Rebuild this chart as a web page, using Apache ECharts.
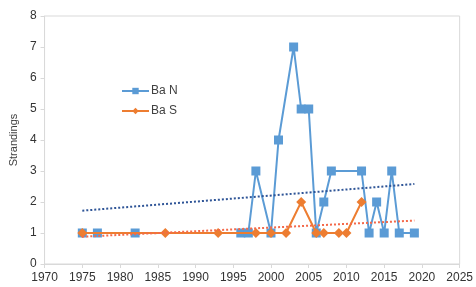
<!DOCTYPE html>
<html>
<head>
    <meta charset="utf-8">
    <title>Strandings</title>
    <script src="https://cdn.jsdelivr.net/npm/echarts@6/dist/echarts.min.js"></script>
    <style>
        html, body { margin: 0; padding: 0; background: #fff; }
    </style>
</head>
<body>
    <div id="main" style="width: 476px;height:287px;"></div>

    <script type="text/javascript">
        // Ba N (blue squares)
        var yearsN = [1975, 1977, 1982, 1996, 1997, 1998, 2000, 2001, 2003, 2004, 2005, 2006, 2007, 2008, 2012, 2013, 2014, 2015, 2016, 2017, 2019];
        var valuesN = [1, 1, 1, 1, 1, 3, 1, 4, 7, 5, 5, 1, 2, 3, 3, 1, 2, 1, 3, 1, 1];

        // Ba S (orange diamonds)
        var yearsS = [1975, 1986, 1993, 1998, 2000, 2002, 2004, 2006, 2007, 2009, 2010, 2012];
        var valuesS = [1, 1, 1, 1, 1, 1, 2, 1, 1, 1, 1, 2];

        // linear trend lines, end points
        var trendYears = [1975, 2019];
        var trendN = [1.72, 2.58];
        var trendS = [0.88, 1.40];

        function pairs(xs, ys) {
            var out = [];
            for (var i = 0; i < xs.length; i++) {
                out.push([xs[i], ys[i]]);
            }
            return out;
        }

        var myChart = echarts.init(document.getElementById('main'));

        var option = {
            animation: false,
            textStyle: { fontFamily: 'Liberation Sans' },
            grid: {
                left: 43,
                right: 14,
                top: 16,
                bottom: 23,
                show: true,
                borderColor: '#d9d9d9',
                borderWidth: 1
            },
            legend: {
                orient: 'vertical',
                left: 116,
                top: 80,
                itemGap: 8,
                itemWidth: 27,
                itemHeight: 8,
                textStyle: { color: '#404040', fontSize: 12, padding: [0, 0, 0, -3] },
                data: ['Ba N', 'Ba S']
            },
            xAxis: {
                type: 'value',
                min: 1970,
                max: 2025,
                interval: 5,
                axisLine: { show: true, lineStyle: { color: '#d9d9d9' } },
                axisTick: { show: true, length: 4, lineStyle: { color: '#d9d9d9' } },
                axisLabel: {
                    color: '#333333',
                    fontSize: 12,
                    formatter: function(v) { return String(v); }
                },
                splitLine: { show: false }
            },
            yAxis: {
                type: 'value',
                min: 0,
                max: 8,
                interval: 1,
                name: 'Strandings',
                nameLocation: 'middle',
                nameGap: 25,
                nameTextStyle: { color: '#404040', fontSize: 11 },
                axisLine: { show: true, lineStyle: { color: '#d9d9d9' } },
                axisTick: { show: true, length: 4, lineStyle: { color: '#d9d9d9' } },
                axisLabel: { color: '#333333', fontSize: 12 },
                splitLine: { show: false }
            },
            series: [{
                name: 'Ba N',
                type: 'line',
                data: pairs(yearsN, valuesN),
                symbol: 'rect',
                symbolSize: 9,
                itemStyle: { color: '#5b9bd5' },
                lineStyle: { color: '#5b9bd5', width: 2 },
                z: 2
            }, {
                name: 'Ba S',
                type: 'line',
                data: pairs(yearsS, valuesS),
                symbol: 'diamond',
                symbolSize: 10,
                itemStyle: { color: '#ed7d31' },
                lineStyle: { color: '#ed7d31', width: 2 },
                z: 3
            }, {
                name: 'trend N',
                type: 'line',
                data: pairs(trendYears, trendN),
                symbol: 'none',
                lineStyle: { color: '#2f5597', width: 2, type: [2, 2] },
                z: 4
            }, {
                name: 'trend S',
                type: 'line',
                data: pairs(trendYears, trendS),
                symbol: 'none',
                lineStyle: { color: '#f4694a', width: 2, type: [2, 2] },
                z: 4
            }]
        };

        myChart.setOption(option);
    </script>
</body>
</html>
